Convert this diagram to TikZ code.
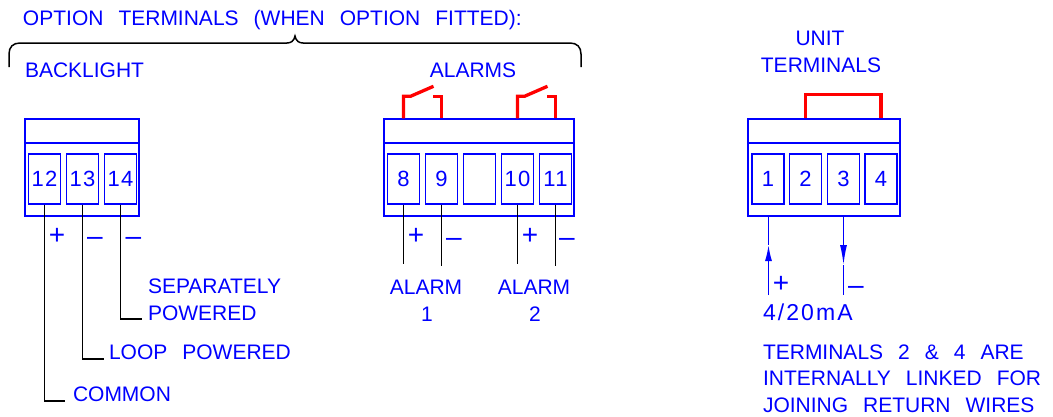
\documentclass[tikz,border=0pt]{standalone}
\usepackage{fontspec}
\setmainfont{Liberation Sans}
\usetikzlibrary{arrows.meta,positioning}
\newcommand{\wgap}{\hspace{15pt}}
\tikzset{
  lbl/.style={text=blue,inner sep=0pt,outer sep=0pt,font=\fontsize{21}{26.3}\selectfont},
  lblw/.style={lbl,anchor=base west,align=left},
  sign/.style={text=blue,inner sep=0pt,outer sep=0pt,font=\fontsize{28}{28}\selectfont},
  blockbox/.style={draw=blue,line width=1.4pt,inner sep=0pt,minimum width=#1,minimum height=97},
  termbox/.style={draw=blue,line width=1.4pt,inner sep=0pt,minimum width=32,minimum height=50,text=blue,font=\fontsize{22}{22}\selectfont\addfontfeature{LetterSpace=6}},
  divline/.style={draw=blue,line width=1.4pt},
  wire/.style={draw=black,line width=1.5pt},
  bluewire/.style={draw=blue,line width=1.5pt},
  link/.style={draw=red,line width=3.3pt},
}
\begin{document}
\begin{tikzpicture}[x=1pt,y=-1pt]
  \useasboundingbox (0,0) rectangle (1053,416);
  % headings
  \node[lblw] (title) at (23,25) {OPTION\wgap TERMINALS\wgap (WHEN\wgap OPTION\wgap FITTED):};
  \node[lblw] (backlight) at (25,77) {BACKLIGHT};
  \node[lbl,anchor=base] (alarms) at (473,77) {ALARMS};
  \node[lbl,anchor=base] (unit) at (820,45) {UNIT};
  \node[lbl,anchor=base] (unitterm) at (821,72) {TERMINALS};
  % brace
  \coordinate (brl) at (9,67);
  \coordinate (brr) at (581,67);
  \coordinate (brtip) at (295,36);
  \draw[wire] (brl) -- (9,54) .. controls (9,47) and (13,43) .. (20,43) -- (287,43)
    .. controls (291,43) and (294,41) .. (brtip) .. controls (296,41) and (299,43) .. (303,43)
    -- (570,43) .. controls (577,43) and (581,47) .. (581,54) -- (brr);
  % backlight block
  \node[blockbox=114] (blockA) at (82,167.5) {};
  \coordinate (divA) at (25,143);
  \draw[divline] (divA) -- (divA -| blockA.east);
  \node[termbox] (t12) at (44.5,179) {12};
  \node[termbox] (t13) at (82.5,179) {13};
  \node[termbox] (t14) at (120.5,179) {14};
  \coordinate (end12) at (65,401);
  \coordinate (end13) at (104,359);
  \coordinate (end14) at (142,319);
  \draw[wire] (t12.south) |- (end12);
  \draw[wire] (t13.south) |- (end13);
  \draw[wire] (t14.south) |- (end14);
  \node[sign] (s12) at (57,236) {+};
  \node[sign] (s13) at (95,241) {–};
  \node[sign] (s14) at (133.5,241) {–};
  \node[lblw] (sep) at (148,320) {SEPARATELY\\POWERED};
  \node[lblw] (loop) at (109,359) {LOOP\wgap POWERED};
  \node[lblw] (common) at (73,401) {COMMON};
  % alarm block
  \node[blockbox=190] (blockB) at (479,167.5) {};
  \coordinate (divB) at (384,143);
  \draw[divline] (divB) -- (divB -| blockB.east);
  \node[termbox] (t8) at (403.5,179) {8};
  \node[termbox] (t9) at (441.5,179) {9};
  \node[termbox] (tx) at (479.5,179) {};
  \node[termbox] (t10) at (517.5,179) {10};
  \node[termbox] (t11) at (555.5,179) {11};
  \draw[link] (t8 |- blockB.north) -- ++(0,-22) -- ++(7,0) -- ++(23,-10);
  \draw[link] (t9 |- blockB.north) -- ++(0,-22) -- ++(-9,0);
  \draw[link] (t10 |- blockB.north) -- ++(0,-22) -- ++(7,0) -- ++(23,-10);
  \draw[link] (t11 |- blockB.north) -- ++(0,-22) -- ++(-9,0);
  \coordinate (end8) at (403.5,264);
  \coordinate (end9) at (441.5,266);
  \coordinate (end10) at (517.5,264);
  \coordinate (end11) at (555.5,266);
  \draw[wire] (t8.south) -- (end8);
  \draw[wire] (t9.south) -- (end9);
  \draw[wire] (t10.south) -- (end10);
  \draw[wire] (t11.south) -- (end11);
  \node[sign] (s8) at (416,236) {+};
  \node[sign] (s9) at (454,242) {–};
  \node[sign] (s10) at (530,236) {+};
  \node[sign] (s11) at (567,242) {–};
  \node[lbl,anchor=base] (al1) at (426,294) {ALARM};
  \node[lbl,anchor=base] (al1n) at (427,321) {1};
  \node[lbl,anchor=base] (al2) at (534,294) {ALARM};
  \node[lbl,anchor=base] (al2n) at (535,321) {2};
  % unit block
  \node[blockbox=152] (blockC) at (824,167.5) {};
  \coordinate (divC) at (748,143);
  \draw[divline] (divC) -- (divC -| blockC.east);
  \node[termbox] (t1) at (768,179) {1};
  \node[termbox] (t2) at (805.5,179) {2};
  \node[termbox] (t3) at (843.5,179) {3};
  \node[termbox] (t4) at (881,179) {4};
  \draw[link] (t2 |- blockC.north) -- ++(0,-24) -| (t4 |- blockC.north);
  \coordinate (in1) at (768.5,295);
  \coordinate (tip1) at (768.5,245);
  \coordinate (tip3) at (843.5,265);
  \coordinate (end3) at (843.5,295);
  \draw[bluewire,-{Latex[length=16pt,width=7pt]}] (in1) -- (tip1);
  \draw[bluewire] (tip1) -- (tip1 |- blockC.south);
  \draw[bluewire,-{Latex[length=20pt,width=7pt]}] (t3 |- blockC.south) -- (tip3);
  \draw[bluewire] (tip3) -- (end3);
  \node[sign] (s1) at (781,284) {+};
  \node[sign] (s3) at (856,290) {–};
  \node[lblw,font=\fontsize{23}{26.3}\selectfont\addfontfeature{LetterSpace=9}] (ma) at (763,320) {4/20mA};
  \node[lblw] (note) at (763,412) {TERMINALS\wgap 2\wgap \&\wgap 4\wgap ARE\\INTERNALLY\wgap LINKED\wgap FOR\\JOINING\wgap RETURN\wgap WIRES};
\end{tikzpicture}
\end{document}
